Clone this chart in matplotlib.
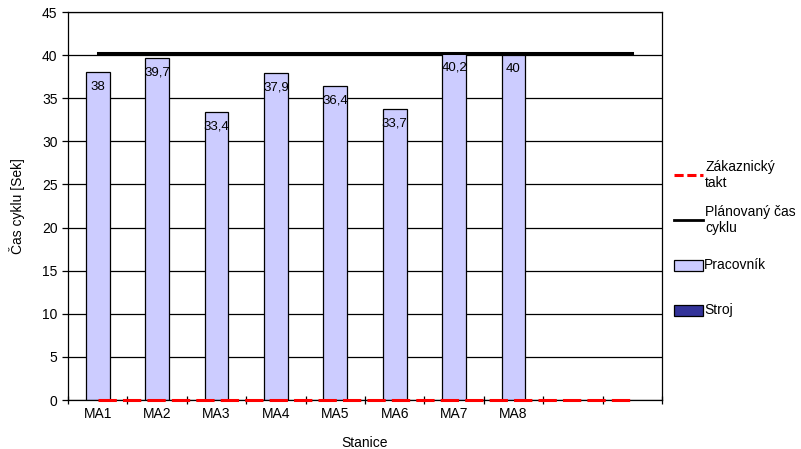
import matplotlib
matplotlib.use("Agg")
import matplotlib.pyplot as plt
from matplotlib.lines import Line2D
from matplotlib.patches import Rectangle
import numpy as np

plt.rcParams['font.family'] = ['Liberation Sans', 'DejaVu Sans']

# data
categories = ["MA1", "MA2", "MA3", "MA4", "MA5", "MA6", "MA7", "MA8", "", ""]
pracovnik = [38, 39.7, 33.4, 37.9, 36.4, 33.7, 40.2, 40]
zakaznicky_takt = [0, 0, 0, 0, 0, 0, 0, 0, 0, 0]
planovany_cas = [40.2, 40.2, 40.2, 40.2, 40.2, 40.2, 40.2, 40.2, 40.2, 40.2]

fig = plt.figure(figsize=(8.01, 4.49), dpi=100)
ax = fig.add_axes([68 / 801, 1 - 400 / 449, (662 - 68) / 801, (400 - 12) / 449])

x = np.arange(len(categories))
xb = np.arange(len(pracovnik))

ax.bar(xb, pracovnik, width=0.4, color='#CCCCFF', edgecolor='black', linewidth=0.9, zorder=2)
ax.plot(x, planovany_cas, color='black', lw=2.2, zorder=3)
ax.plot(x, zakaznicky_takt, color='#FF0000', lw=2.2, dashes=(6, 2), zorder=4, clip_on=False)

for xi, v in zip(xb, pracovnik):
    lab = ('%g' % v).replace('.', ',')
    ax.annotate(lab, (xi, v), xytext=(0, -10.3), textcoords='offset points',
                ha='center', va='center', fontsize=9.5, zorder=5)

ax.set_xlim(-0.5, len(categories) - 0.5)
ax.set_ylim(0, 45)
ax.set_yticks(np.arange(0, 46, 5))
ax.yaxis.grid(True, color='black', lw=0.9)
ax.set_axisbelow(True)

ax.set_xticks(x)
ax.set_xticklabels(categories, fontsize=10)
ax.set_xticks(np.arange(-0.5, len(categories), 1), minor=True)
ax.tick_params(axis='x', which='major', length=0, pad=5)
ax.tick_params(axis='x', which='minor', direction='inout', length=6, width=0.9)
ax.tick_params(axis='y', labelsize=10, length=4, width=0.9)

for s in ax.spines.values():
    s.set_color('black')
    s.set_linewidth(0.9)

ax.set_xlabel("Stanice", fontsize=10, labelpad=11)
ax.set_ylabel("Čas cyklu [Sek]", fontsize=10, labelpad=12)

# legend on the right
W, H = 801, 449
def fx(px):
    return px / W
def fy(py):
    return 1 - py / H

fig.add_artist(Line2D([fx(674), fx(703)], [fy(175), fy(175)], color='#FF0000', lw=2.2, dashes=(3, 1.2)))
fig.text(fx(705), fy(175), "Zákaznický\ntakt", fontsize=10, va='center', linespacing=1.15)
fig.add_artist(Line2D([fx(674), fx(703)], [fy(220), fy(220)], color='black', lw=2.0))
fig.text(fx(705), fy(220), "Plánovaný čas\ncyklu", fontsize=10, va='center', linespacing=1.15)
fig.add_artist(Rectangle((fx(674), fy(271)), fx(29), 11 / H, facecolor='#CCCCFF', edgecolor='black', lw=0.9))
fig.text(fx(704), fy(265), "Pracovník", fontsize=10, va='center')
fig.add_artist(Rectangle((fx(674), fy(316)), fx(29), 11 / H, facecolor='#333399', edgecolor='black', lw=0.9))
fig.text(fx(704), fy(310), "Stroj", fontsize=10, va='center')

fig.savefig("out.png", dpi=100)
